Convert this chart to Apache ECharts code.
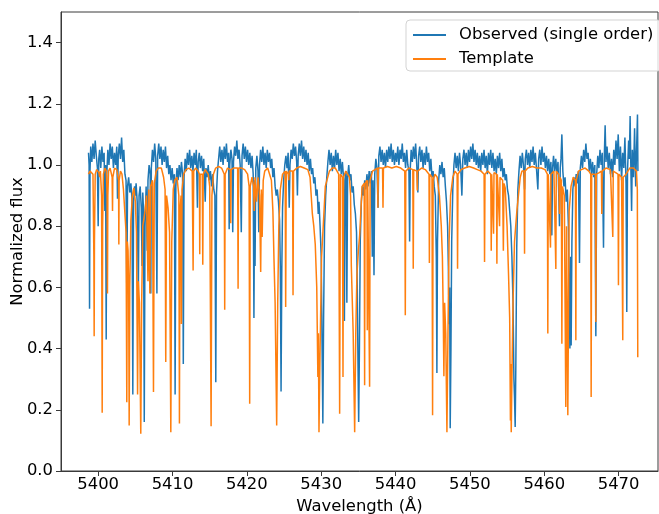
<!DOCTYPE html>
<html>
<head>
<meta charset="utf-8">
<script src="https://cdn.jsdelivr.net/npm/echarts@6/dist/echarts.min.js"></script>
<style>
  html, body { margin: 0; padding: 0; background: #fff; }
  #chart { width: 659px; height: 514px; }
</style>
</head>
<body>
<div id="chart"></div>
<script>
// Axis tick labels
const xTicks = [5400, 5410, 5420, 5430, 5440, 5450, 5460, 5470];
const yTicks = [0, 0.2, 0.4, 0.6, 0.8, 1.0, 1.2, 1.4];

// Observed spectrum (single echelle order): [wavelength Å, normalized flux]
const observed5400 = [
  [5398.70,1.04],[5398.78,1.00],[5398.84,0.53],[5398.90,0.98],[5399.00,1.06],[5399.15,1.01],[5399.30,1.07],[5399.45,1.02],
  [5399.60,1.08],[5399.75,1.03],[5399.90,0.99],[5400.00,0.80],[5400.08,1.02],[5400.20,1.05],[5400.35,0.99],[5400.50,1.06],
  [5400.65,1.01],[5400.80,1.04],[5400.90,0.85],[5401.00,1.00],[5401.08,0.43],[5401.16,0.97],[5401.30,1.05],[5401.45,1.00],
  [5401.60,1.07],[5401.75,1.02],[5401.90,1.06],[5402.05,0.99],[5402.20,1.04],[5402.35,1.00],[5402.50,1.06],[5402.60,0.89],
  [5402.70,1.03],[5402.85,1.07],[5403.00,1.02],[5403.15,1.09],[5403.30,1.01],[5403.45,1.05],[5403.60,0.97],[5403.75,0.95],
  [5403.85,0.58],[5403.95,0.93],[5404.10,0.96],[5404.25,0.91],[5404.40,0.94],[5404.55,0.89],[5404.66,0.25],[5404.76,0.88],
  [5404.90,0.93],[5405.00,0.90],[5405.10,0.94],[5405.25,0.88],[5405.40,0.58],[5405.50,0.90],[5405.65,0.93],[5405.80,0.86],
  [5405.90,0.67],[5406.00,0.91],[5406.10,0.85],[5406.20,0.16],[5406.30,0.80],[5406.45,0.93],[5406.60,0.72],[5406.70,0.95],
  [5406.85,1.00],[5407.00,0.97],[5407.08,0.58],[5407.15,0.99],[5407.30,1.05],[5407.45,1.01],[5407.60,1.07],[5407.75,1.02],
  [5407.90,0.58],[5408.00,1.03],[5408.15,1.07],[5408.30,1.02],[5408.45,1.06],[5408.60,1.00],[5408.75,1.05],[5408.90,1.01],
  [5409.05,1.06],[5409.20,0.99],[5409.35,1.03],[5409.50,0.97],[5409.65,1.00],[5409.80,0.95],[5409.95,0.99]
];
const observed5410 = [
  [5410.10,0.94],[5410.25,0.97],[5410.35,0.25],[5410.45,0.93],[5410.60,0.99],[5410.75,0.95],[5410.90,1.00],[5411.05,0.96],
  [5411.20,1.01],[5411.35,0.97],[5411.45,0.35],[5411.55,0.96],[5411.70,1.02],[5411.85,0.98],[5412.00,1.04],[5412.15,1.00],
  [5412.30,1.05],[5412.45,0.99],[5412.60,1.03],[5412.75,0.98],[5412.90,1.04],[5413.05,1.00],[5413.20,1.05],[5413.35,0.86],
  [5413.45,1.01],[5413.60,1.04],[5413.75,0.99],[5413.90,1.03],[5414.05,0.98],[5414.20,1.02],[5414.40,0.88],[5414.50,0.99],
  [5414.65,0.96],[5414.80,1.00],[5414.95,0.95],[5415.10,0.98],[5415.25,0.93],[5415.40,0.97],[5415.55,0.92],[5415.70,0.90],
  [5415.82,0.29],[5415.92,0.91],[5416.05,0.98],[5416.20,1.02],[5416.35,1.06],[5416.50,1.01],[5416.65,1.05],[5416.80,1.00],
  [5416.95,1.06],[5417.10,1.02],[5417.25,1.07],[5417.40,1.01],[5417.55,1.04],[5417.62,0.79],[5417.70,1.00],[5417.85,1.05],
  [5418.00,1.02],[5418.10,0.78],[5418.20,1.01],[5418.35,1.06],[5418.50,1.03],[5418.65,1.08],[5418.80,1.02],[5418.95,1.05],
  [5419.10,1.00],[5419.25,0.78],[5419.35,1.03],[5419.50,1.07],[5419.65,1.02],[5419.80,1.06],[5419.95,1.01]
];
const observed5420 = [
  [5420.10,1.05],[5420.25,1.00],[5420.40,1.04],[5420.55,0.99],[5420.70,1.03],[5420.85,0.97],[5420.95,0.50],[5421.05,0.95],
  [5421.10,0.67],[5421.20,0.99],[5421.35,1.03],[5421.50,0.98],[5421.60,0.78],[5421.70,1.00],[5421.85,1.05],[5422.00,1.01],
  [5422.15,1.06],[5422.30,1.00],[5422.45,1.04],[5422.60,0.99],[5422.75,1.05],[5422.90,1.01],[5423.05,1.04],[5423.20,0.99],
  [5423.35,1.02],[5423.50,0.96],[5423.65,0.99],[5423.80,0.93],[5423.95,0.90],[5424.10,0.92],[5424.25,0.88],[5424.40,0.82],
  [5424.50,0.67],[5424.60,0.26],[5424.70,0.66],[5424.80,0.86],[5424.95,0.95],[5425.10,1.00],[5425.25,1.03],[5425.40,0.99],
  [5425.55,1.04],[5425.70,0.86],[5425.80,1.00],[5425.95,1.05],[5426.10,1.02],[5426.25,1.07],[5426.40,1.03],[5426.55,1.06],
  [5426.70,1.01],[5426.80,0.90],[5426.90,1.03],[5427.05,1.07],[5427.20,1.03],[5427.35,1.08],[5427.50,1.02],[5427.65,1.06],
  [5427.80,1.01],[5427.95,1.05],[5428.10,1.00],[5428.25,1.04],[5428.40,0.98],[5428.55,1.02],[5428.70,0.97],[5428.85,0.99],
  [5429.00,0.94],[5429.15,0.96],[5429.30,0.90],[5429.45,0.92],[5429.60,0.84],[5429.70,0.88],[5429.85,0.80]
];
const observed5430 = [
  [5430.00,0.70],[5430.10,0.45],[5430.22,0.155],[5430.32,0.50],[5430.45,0.80],[5430.60,0.90],[5430.75,0.96],[5430.90,1.01],
  [5431.05,1.05],[5431.20,1.00],[5431.35,1.04],[5431.50,0.98],[5431.65,1.03],[5431.80,0.99],[5431.95,1.05],[5432.10,1.00],
  [5432.25,1.04],[5432.40,0.98],[5432.55,1.02],[5432.70,0.97],[5432.85,1.01],[5433.00,0.96],[5433.12,0.49],[5433.22,0.95],
  [5433.35,0.98],[5433.45,0.55],[5433.55,0.96],[5433.70,1.00],[5433.85,0.95],[5434.00,0.97],[5434.15,0.91],[5434.30,0.93],
  [5434.45,0.87],[5434.60,0.84],[5434.75,0.78],[5434.85,0.60],[5434.95,0.35],[5435.04,0.16],[5435.14,0.40],[5435.25,0.75],
  [5435.40,0.88],[5435.55,0.93],[5435.70,0.90],[5435.85,0.95],[5436.00,0.92],[5436.15,0.97],[5436.30,0.93],[5436.45,0.98],
  [5436.60,0.94],[5436.75,0.98],[5436.87,0.70],[5436.97,0.95],[5437.10,0.64],[5437.20,0.97],[5437.35,1.02],[5437.50,0.99],
  [5437.65,0.86],[5437.75,1.03],[5437.90,1.06],[5438.05,1.01],[5438.20,1.05],[5438.35,1.00],[5438.50,1.04],[5438.65,0.99],
  [5438.80,1.05],[5438.95,1.01],[5439.10,1.06],[5439.25,1.02],[5439.40,1.07],[5439.55,1.01],[5439.70,1.05],[5439.85,1.00]
];
const observed5440 = [
  [5440.00,1.04],[5440.15,1.01],[5440.30,1.06],[5440.45,1.00],[5440.60,1.05],[5440.75,1.02],[5440.90,1.07],[5441.05,1.01],
  [5441.20,1.04],[5441.35,0.99],[5441.50,1.05],[5441.65,1.00],[5441.80,0.98],[5441.89,0.75],[5441.98,0.99],[5442.10,1.05],
  [5442.25,1.01],[5442.40,1.06],[5442.55,1.02],[5442.70,1.07],[5442.85,1.00],[5443.00,0.91],[5443.10,1.03],[5443.25,1.06],
  [5443.40,1.01],[5443.55,1.05],[5443.70,0.99],[5443.85,1.04],[5444.00,1.00],[5444.15,1.06],[5444.30,1.01],[5444.45,1.04],
  [5444.60,0.98],[5444.75,1.02],[5444.90,0.96],[5445.05,0.98],[5445.20,0.93],[5445.35,0.90],[5445.48,0.70],[5445.56,0.32],
  [5445.64,0.75],[5445.80,0.95],[5445.95,1.00],[5446.10,0.97],[5446.25,1.01],[5446.40,0.96],[5446.55,0.99],[5446.70,0.93],
  [5446.85,0.88],[5447.00,0.80],[5447.10,0.67],[5447.20,0.48],[5447.28,0.60],[5447.35,0.14],[5447.45,0.40],[5447.55,0.75],
  [5447.70,0.92],[5447.85,1.00],[5448.00,1.04],[5448.15,0.99],[5448.30,1.03],[5448.45,0.98],[5448.60,1.04],[5448.75,1.00],
  [5448.92,0.90],[5449.05,1.02],[5449.20,1.05],[5449.35,1.00],[5449.50,1.04],[5449.65,0.99],[5449.80,1.05],[5449.95,1.01]
];
const observed5450 = [
  [5450.10,1.06],[5450.25,1.02],[5450.40,1.07],[5450.55,1.01],[5450.70,1.05],[5450.85,1.00],[5451.00,1.04],[5451.15,0.99],
  [5451.30,1.03],[5451.45,0.98],[5451.60,1.04],[5451.75,1.00],[5451.90,1.05],[5452.05,0.99],[5452.20,1.03],[5452.35,0.97],
  [5452.50,1.04],[5452.65,1.00],[5452.80,1.05],[5452.95,0.99],[5453.10,1.04],[5453.25,0.98],[5453.40,1.02],[5453.55,0.97],
  [5453.70,1.03],[5453.85,0.99],[5454.00,1.04],[5454.15,0.98],[5454.30,1.02],[5454.45,0.96],[5454.60,0.99],[5454.75,0.95],
  [5454.90,0.97],[5455.05,0.92],[5455.20,0.90],[5455.35,0.85],[5455.50,0.80],[5455.65,0.70],[5455.80,0.55],[5455.92,0.30],
  [5456.00,0.24],[5456.09,0.144],[5456.18,0.35],[5456.30,0.73],[5456.45,0.92],[5456.60,0.98],[5456.75,1.03],[5456.90,0.99],
  [5457.05,1.04],[5457.20,1.00],[5457.35,0.92],[5457.45,1.02],[5457.60,1.05],[5457.75,1.00],[5457.90,1.04],[5458.05,0.99],
  [5458.20,1.05],[5458.35,1.01],[5458.50,1.06],[5458.65,1.00],[5458.80,1.04],[5458.95,0.99],[5459.14,0.92],[5459.25,1.02],
  [5459.40,1.05],[5459.55,1.00],[5459.70,1.06],[5459.85,1.01]
];
const observed5460 = [
  [5460.00,1.04],[5460.15,0.99],[5460.30,1.03],[5460.45,0.98],[5460.60,1.02],[5460.75,0.97],[5460.90,1.01],[5461.02,0.77],
  [5461.12,0.99],[5461.25,1.03],[5461.40,0.98],[5461.55,1.02],[5461.70,0.97],[5461.85,1.01],[5462.05,0.80],[5462.15,0.99],
  [5462.25,1.02],[5462.37,1.10],[5462.50,0.98],[5462.65,0.93],[5462.80,0.96],[5462.95,0.88],[5463.10,0.92],[5463.25,0.80],
  [5463.35,0.60],[5463.45,0.40],[5463.55,0.70],[5463.62,0.41],[5463.72,0.75],[5463.85,0.92],[5464.00,0.96],[5464.15,0.93],
  [5464.30,0.97],[5464.45,0.94],[5464.60,0.98],[5464.74,0.68],[5464.85,0.99],[5465.00,1.03],[5465.15,0.99],[5465.30,1.05],
  [5465.45,1.01],[5465.60,1.07],[5465.75,1.02],[5465.90,1.04],[5466.05,0.98],[5466.20,1.02],[5466.35,0.97],[5466.50,1.01],
  [5466.65,0.96],[5466.80,1.00],[5466.94,0.44],[5467.05,0.97],[5467.20,1.03],[5467.35,0.99],[5467.50,1.05],[5467.65,1.00],
  [5467.80,1.04],[5467.97,0.73],[5468.07,1.02],[5468.19,1.13],[5468.30,1.01],[5468.45,1.06],[5468.60,0.99],[5468.75,1.04],
  [5468.90,0.97],[5469.05,1.02],[5469.20,0.96],[5469.35,1.05],[5469.50,1.00],[5469.65,1.08],[5469.80,1.02],[5469.95,1.10]
];
const observed5470 = [
  [5470.10,0.98],[5470.25,1.06],[5470.40,0.95],[5470.55,1.04],[5470.70,0.99],[5470.85,1.09],[5471.00,0.94],[5471.10,0.52],
  [5471.20,0.98],[5471.35,1.08],[5471.45,1.02],[5471.55,1.16],[5471.65,0.99],[5471.75,0.85],[5471.85,1.05],[5472.00,0.96],
  [5472.15,1.12],[5472.30,0.93],[5472.45,1.08],[5472.54,1.165],[5472.60,0.98]
];

// Synthetic template spectrum: [wavelength Å, normalized flux]
const template5400 = [
  [5398.70,0.97],[5398.90,0.98],[5399.10,0.985],[5399.30,0.97],[5399.42,0.70],[5399.46,0.44],[5399.50,0.75],[5399.60,0.97],
  [5399.80,0.985],[5399.95,0.99],[5400.10,0.975],[5400.20,0.96],[5400.30,0.98],[5400.46,0.90],[5400.54,0.19],[5400.60,0.80],
  [5400.70,0.97],[5400.90,0.99],[5401.10,0.98],[5401.20,0.90],[5401.25,0.58],[5401.30,0.90],[5401.40,0.98],[5401.60,0.99],
  [5401.88,0.96],[5401.93,0.85],[5401.97,0.96],[5402.20,0.99],[5402.50,0.985],[5402.74,0.95],[5402.78,0.74],[5402.82,0.95],
  [5403.00,0.98],[5403.20,0.97],[5403.40,0.92],[5403.60,0.84],[5403.75,0.78],[5403.85,0.225],[5403.92,0.75],[5404.02,0.72],
  [5404.10,0.60],[5404.17,0.149],[5404.25,0.60],[5404.40,0.82],[5404.60,0.90],[5404.80,0.925],[5405.00,0.88],[5405.15,0.78],
  [5405.30,0.25],[5405.40,0.62],[5405.55,0.55],[5405.73,0.122],[5405.85,0.55],[5406.00,0.80],[5406.30,0.85],[5406.50,0.90],
  [5406.70,0.62],[5406.80,0.92],[5406.95,0.58],[5407.05,0.93],[5407.30,0.95],[5407.44,0.258],[5407.55,0.94],[5407.80,0.98],
  [5408.10,0.99],[5408.50,0.99],[5408.80,0.96],[5409.00,0.92],[5409.09,0.356],[5409.20,0.90],[5409.40,0.86],[5409.60,0.78],
  [5409.77,0.127],[5409.90,0.75]
];
const template5410 = [
  [5410.10,0.92],[5410.30,0.95],[5410.60,0.96],[5410.85,0.90],[5410.93,0.155],[5411.00,0.85],[5411.15,0.90],[5411.20,0.48],
  [5411.28,0.92],[5411.50,0.97],[5411.80,0.985],[5412.20,0.99],[5412.65,0.98],[5412.77,0.655],[5412.85,0.98],[5413.10,0.99],
  [5413.45,0.98],[5413.62,0.97],[5413.66,0.708],[5413.72,0.97],[5414.00,0.97],[5414.07,0.674],[5414.13,0.97],[5414.40,0.985],
  [5414.80,0.97],[5415.00,0.93],[5415.19,0.146],[5415.30,0.90],[5415.50,0.97],[5415.80,0.99],[5416.20,0.995],[5416.60,0.99],
  [5416.96,0.97],[5417.02,0.527],[5417.08,0.97],[5417.40,0.99],[5417.78,0.985],[5417.83,0.81],[5417.88,0.985],[5418.20,0.99],
  [5418.76,0.99],[5418.82,0.596],[5418.88,0.99],[5419.30,0.99],[5419.70,0.985]
];
const template5420 = [
  [5420.10,0.97],[5420.30,0.93],[5420.38,0.22],[5420.45,0.93],[5420.70,0.96],[5420.90,0.93],[5421.00,0.85],[5421.10,0.96],
  [5421.30,0.88],[5421.50,0.96],[5421.70,0.90],[5421.86,0.65],[5421.95,0.92],[5422.06,0.765],[5422.20,0.95],[5422.40,0.98],
  [5422.80,0.99],[5423.00,0.985],[5423.30,0.95],[5423.50,0.85],[5423.65,0.69],[5423.80,0.55],[5424.01,0.149],[5424.15,0.55],
  [5424.30,0.80],[5424.50,0.92],[5424.80,0.97],[5425.15,0.98],[5425.22,0.536],[5425.30,0.98],[5425.58,0.97],[5425.63,0.95],
  [5425.70,0.98],[5426.15,0.98],[5426.21,0.574],[5426.28,0.98],[5426.70,0.99],[5427.20,0.995],[5427.70,0.99],[5428.20,0.985],
  [5428.50,0.96],[5428.81,0.84],[5429.00,0.80],[5429.20,0.74],[5429.40,0.60],[5429.55,0.307],[5429.62,0.45],[5429.70,0.127],
  [5429.85,0.40]
];
const template5430 = [
  [5430.05,0.70],[5430.25,0.79],[5430.55,0.93],[5431.10,0.98],[5431.50,0.99],[5431.90,0.99],[5432.35,0.97],[5432.48,0.187],
  [5432.58,0.97],[5432.85,0.96],[5432.93,0.307],[5433.00,0.96],[5433.30,0.98],[5433.80,0.96],[5433.95,0.90],[5434.05,0.67],
  [5434.30,0.45],[5434.50,0.127],[5434.65,0.45],[5434.80,0.64],[5435.00,0.72],[5435.17,0.77],[5435.50,0.93],[5435.78,0.94],
  [5435.84,0.28],[5435.90,0.94],[5436.15,0.95],[5436.20,0.46],[5436.25,0.95],[5436.45,0.95],[5436.51,0.275],[5436.58,0.95],
  [5436.90,0.98],[5437.58,0.99],[5437.63,0.86],[5437.68,0.99],[5438.25,0.99],[5438.31,0.86],[5438.37,0.99],[5438.90,0.995],
  [5439.50,0.99]
];
const template5440 = [
  [5440.10,0.995],[5440.70,0.99],[5441.24,0.98],[5441.31,0.509],[5441.38,0.98],[5441.80,0.99],[5442.32,0.985],[5442.38,0.661],
  [5442.44,0.985],[5442.87,0.98],[5442.92,0.917],[5442.97,0.98],[5443.50,0.99],[5444.00,0.985],[5444.50,0.97],[5444.55,0.68],
  [5444.60,0.97],[5444.90,0.96],[5444.98,0.182],[5445.05,0.95],[5445.30,0.97],[5445.60,0.96],[5445.90,0.90],[5446.15,0.80],
  [5446.30,0.70],[5446.42,0.50],[5446.50,0.31],[5446.60,0.55],[5446.75,0.45],[5446.91,0.127],[5447.05,0.45],[5447.20,0.75],
  [5447.40,0.90],[5447.70,0.96],[5448.00,0.98],[5448.28,0.97],[5448.34,0.661],[5448.40,0.97],[5448.80,0.985],[5449.30,0.99],
  [5449.90,0.995]
];
const template5450 = [
  [5450.50,0.99],[5451.00,0.985],[5451.50,0.98],[5451.91,0.97],[5451.97,0.683],[5452.03,0.97],[5452.40,0.98],[5452.81,0.97],
  [5452.87,0.72],[5452.93,0.97],[5453.12,0.975],[5453.18,0.775],[5453.24,0.975],[5453.57,0.97],[5453.63,0.677],[5453.69,0.97],
  [5453.93,0.97],[5453.99,0.80],[5454.05,0.96],[5454.40,0.95],[5454.50,0.72],[5454.58,0.94],[5454.75,0.925],[5455.00,0.80],
  [5455.20,0.64],[5455.35,0.50],[5455.45,0.165],[5455.50,0.35],[5455.56,0.127],[5455.65,0.30],[5455.80,0.55],[5456.00,0.75],
  [5456.32,0.85],[5456.77,0.96],[5457.00,0.98],[5457.29,0.98],[5457.35,0.71],[5457.41,0.98],[5457.80,0.99],[5458.40,0.995],
  [5459.00,0.99],[5459.60,0.99]
];
const template5460 = [
  [5460.10,0.985],[5460.42,0.97],[5460.48,0.449],[5460.54,0.97],[5460.79,0.97],[5460.84,0.73],[5460.89,0.97],[5461.30,0.98],
  [5461.50,0.98],[5461.56,0.66],[5461.62,0.98],[5461.95,0.97],[5462.05,0.84],[5462.12,0.96],[5462.30,0.95],[5462.37,0.416],
  [5462.45,0.93],[5462.70,0.90],[5462.90,0.209],[5463.00,0.80],[5463.17,0.182],[5463.35,0.85],[5463.60,0.93],[5463.90,0.96],
  [5464.19,0.95],[5464.25,0.427],[5464.31,0.95],[5464.60,0.98],[5465.00,0.985],[5465.50,0.99],[5466.00,0.98],[5466.25,0.97],
  [5466.31,0.242],[5466.38,0.97],[5466.88,0.97],[5466.94,0.487],[5467.00,0.97],[5467.40,0.975],[5467.69,0.98],[5467.74,0.84],
  [5467.79,0.98],[5468.30,0.99],[5468.90,0.985],[5469.16,0.98],[5469.22,0.765],[5469.28,0.98],[5469.92,0.97],[5469.98,0.607]
];
const template5470 = [
  [5470.04,0.97],[5470.40,0.96],[5470.50,0.96],[5470.56,0.427],[5470.62,0.96],[5471.00,0.97],[5471.50,0.99],[5472.00,0.99],
  [5472.40,0.98],[5472.52,0.92],[5472.58,0.372]
];

const observed = [].concat(observed5400, observed5410, observed5420, observed5430,
                           observed5440, observed5450, observed5460, observed5470);
const template = [].concat(template5400, template5410, template5420, template5430,
                           template5440, template5450, template5460, template5470);

const FONT = 'DejaVu Sans';
const FONT_SIZE = 16.4;
const AXIS_COLOR = '#3a3a3a';

const chart = echarts.init(document.getElementById('chart'), null, { renderer: 'canvas' });
chart.setOption({
  animation: false,
  backgroundColor: '#ffffff',
  textStyle: { fontFamily: FONT },
  grid: {
    left: 61, right: 1, top: 12, bottom: 43,
    outerBoundsMode: 'none', containLabel: false,
    show: true, borderColor: AXIS_COLOR, borderWidth: 1, backgroundColor: 'transparent'
  },
  legend: {
    orient: 'vertical', left: 406, top: 20, align: 'left',
    data: ['Observed (single order)', 'Template'],
    icon: 'rect',
    itemWidth: 33, itemHeight: 2, itemGap: 8,
    padding: [7, 8, 4, 7],
    backgroundColor: 'rgba(255,255,255,0.8)',
    borderColor: '#d3d3d3', borderWidth: 1, borderRadius: 4,
    textStyle: { fontFamily: FONT, fontSize: FONT_SIZE, color: '#000', padding: [0, 0, 0, 8] }
  },
  xAxis: {
    type: 'value', min: 5395, max: 5475.3,
    name: 'Wavelength (Å)', nameLocation: 'middle', nameGap: 28, nameMoveOverlap: false,
    nameTextStyle: { fontFamily: FONT, fontSize: FONT_SIZE, color: '#000' },
    axisLine: { show: true, onZero: false, lineStyle: { color: AXIS_COLOR, width: 1 } },
    axisTick: { show: true, length: 5, inside: false, customValues: xTicks, lineStyle: { color: AXIS_COLOR } },
    axisLabel: {
      customValues: xTicks, fontFamily: FONT, fontSize: FONT_SIZE, color: '#000', margin: 6,
      formatter: v => String(Math.round(v))
    },
    splitLine: { show: false }
  },
  yAxis: {
    type: 'value', min: 0, max: 1.5,
    name: 'Normalized flux', nameLocation: 'middle', nameGap: 35, nameMoveOverlap: false,
    nameTextStyle: { fontFamily: FONT, fontSize: FONT_SIZE, color: '#000' },
    axisLine: { show: true, lineStyle: { color: AXIS_COLOR, width: 1 } },
    axisTick: { show: true, length: 5, inside: false, customValues: yTicks, lineStyle: { color: AXIS_COLOR } },
    axisLabel: {
      customValues: yTicks, fontFamily: FONT, fontSize: FONT_SIZE, color: '#000', margin: 8,
      formatter: v => Number(v).toFixed(1)
    },
    splitLine: { show: false }
  },
  series: [
    {
      name: 'Observed (single order)', type: 'line', data: observed,
      symbol: 'none', z: 2, clip: true,
      lineStyle: { color: '#1f77b4', width: 1.5 }, itemStyle: { color: '#1f77b4' }
    },
    {
      name: 'Template', type: 'line', data: template,
      symbol: 'none', z: 3, clip: true,
      lineStyle: { color: '#ff7f0e', width: 1.5 }, itemStyle: { color: '#ff7f0e' }
    }
  ]
});
</script>
</body>
</html>
